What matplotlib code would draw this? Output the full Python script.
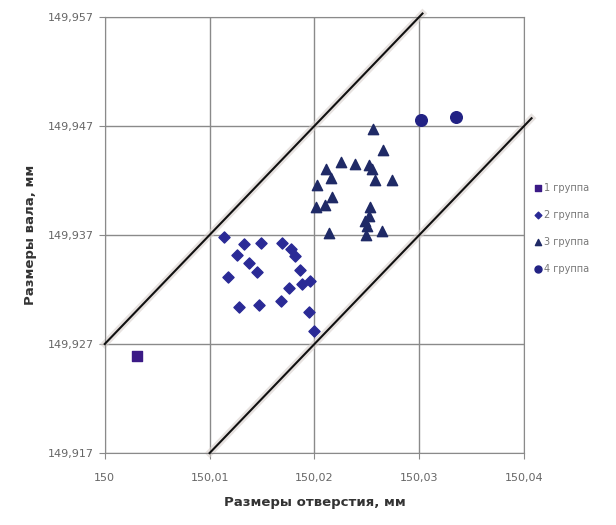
import numpy as np
import matplotlib
matplotlib.use('Agg')
import matplotlib.pyplot as plt

# group 1 (square)
g1_x = [150.0031]
g1_y = [149.9259]

# group 2 (diamonds)
g2_x = [150.0114, 150.0133, 150.0149, 150.0169, 150.0178, 150.0181, 150.0126, 150.0138,
        150.0145, 150.0118, 150.0186, 150.0196, 150.0188, 150.0176, 150.0128, 150.0147,
        150.0168, 150.0195, 150.0200]
g2_y = [149.9368, 149.9362, 149.9363, 149.9363, 149.9357, 149.9351, 149.9352, 149.9344,
        149.9336, 149.9331, 149.9338, 149.9328, 149.9325, 149.9321, 149.9304, 149.9306,
        149.9309, 149.9299, 149.9282]

# group 3 (triangles)
g3_x = [150.0256, 150.0265, 150.0225, 150.0239, 150.0252, 150.0255, 150.0211, 150.0216,
        150.0258, 150.0274, 150.0202, 150.0217, 150.0201, 150.0210, 150.0253, 150.0252,
        150.0248, 150.0250, 150.0249, 150.0214, 150.0264]
g3_y = [149.9467, 149.9448, 149.9437, 149.9435, 149.9434, 149.9430, 149.9430, 149.9422,
        149.9420, 149.9420, 149.9416, 149.9405, 149.9396, 149.9397, 149.9396, 149.9387,
        149.9383, 149.9378, 149.9370, 149.9372, 149.9374]

# group 4 (circles)
g4_x = [150.0302, 150.0335]
g4_y = [149.9475, 149.9478]

# tolerance boundaries
upper_x = [150.0, 150.0303]
upper_y = [149.927, 149.9573]
lower_x = [150.01, 150.0407]
lower_y = [149.917, 149.9477]

xticks = [150.0, 150.01, 150.02, 150.03, 150.04]
xtick_labels = ['150', '150,01', '150,02', '150,03', '150,04']
yticks = [149.917, 149.927, 149.937, 149.947, 149.957]
ytick_labels = ['149,917', '149,927', '149,937', '149,947', '149,957']

fig = plt.figure(figsize=(6.16, 5.25), dpi=100)
ax = fig.add_axes([0.170, 0.137, 0.681, 0.831])

grey = '#8a8a8a'
# boundary lines with a faint halo
for lx, ly in [(upper_x, upper_y), (lower_x, lower_y)]:
    ax.plot(lx, ly, color='#d8d0cc', lw=5, alpha=0.6, clip_on=False, zorder=2)
    ax.plot(lx, ly, color='#111111', lw=1.5, clip_on=False, zorder=3)

ax.scatter(g1_x, g1_y, marker='s', s=55, color='#3b1a86', label='1 группа', zorder=4)
ax.scatter(g2_x, g2_y, marker='D', s=32, color='#2a2a96', label='2 группа', zorder=4)
ax.scatter(g3_x, g3_y, marker='^', s=55, color='#1f2a66', label='3 группа', zorder=4)
ax.scatter(g4_x, g4_y, marker='o', s=70, color='#222284', label='4 группа', zorder=4)

ax.set_xlim(150.0, 150.04)
ax.set_ylim(149.917, 149.957)
ax.set_xticks(xticks)
ax.set_xticklabels(xtick_labels)
ax.set_yticks(yticks)
ax.set_yticklabels(ytick_labels)
ax.tick_params(colors='#666666', labelsize=8, length=4, color=grey)
ax.tick_params(axis='x', pad=10)
ax.grid(True, color=grey, lw=1)
ax.set_axisbelow(True)
for s in ax.spines.values():
    s.set_color(grey)

ax.set_xlabel('Размеры отверстия, мм', fontsize=9.5, fontweight='bold', color='#333333', labelpad=10)
ax.set_ylabel('Размеры вала, мм', fontsize=9.5, fontweight='bold', color='#333333', labelpad=8)

leg = ax.legend(loc='center left', bbox_to_anchor=(1.0, 0.515), frameon=False,
                fontsize=7, labelspacing=1.75, handletextpad=0.1, handlelength=1.0,
                markerscale=0.6)
for t in leg.get_texts():
    t.set_color('#777777')

fig.savefig('out.png', dpi=100, facecolor='white')
